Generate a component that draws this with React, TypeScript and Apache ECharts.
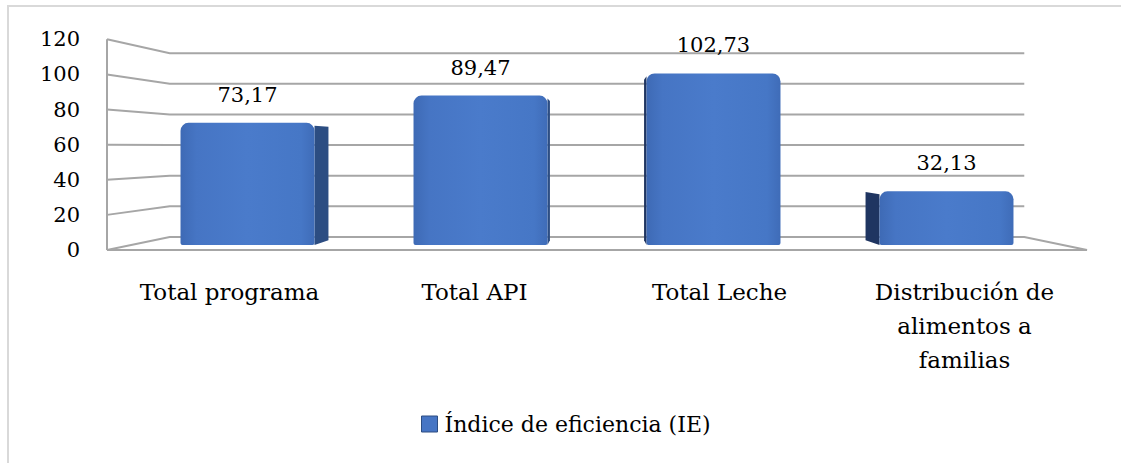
import React, { useEffect, useRef } from "react";
import * as echarts from "echarts";

const categories = ["Total programa", "Total API", "Total Leche", "Distribución de\nalimentos a\nfamilias"];
const values = [73.17, 89.47, 102.73, 32.13];
const seriesName = "Índice de eficiencia (IE)";
const yTicks = [0, 20, 40, 60, 80, 100, 120];

const FONT = "'DejaVu Serif', serif";
const GRID_COLOR = "#a6a6a6";
const K_WALL = 0.872;
const K_BAR_FRONT = 0.951;
const K_BAR_BACK = 0.904;
const VP_VALUE = 58;
const BAR_FRAC = 0.575;

const fmt = (v: number) => v.toFixed(2).replace(".", ",");

function frame(api: any) {
  const band = api.size([1, 0])[0];
  const left = api.coord([0, 0])[0] - band / 2;
  const right = api.coord([categories.length - 1, 0])[0] + band / 2;
  const vp = [(left + right) / 2, api.coord([0, VP_VALUE])[1]];
  const P = (x: number, y: number, k: number) => [vp[0] + k * (x - vp[0]), vp[1] + k * (y - vp[1])];
  return { band, left, right, vp, P };
}

export default function App() {
  const ref = useRef<HTMLDivElement>(null);
  useEffect(() => {
    document.body.style.margin = "0";
    document.body.style.overflow = "hidden";
    const chart = echarts.init(ref.current!, null, { renderer: "svg" });

    const wallsRender = (params: any, api: any) => {
      const { left, right, P } = frame(api);
      const y0 = api.coord([0, yTicks[0]])[1];
      const yMax = api.coord([0, yTicks[yTicks.length - 1]])[1];
      const children: any[] = [];
      children.push({
        type: "polygon",
        shape: { points: [[left, y0], [right, y0], P(right, y0, K_WALL), P(left, y0, K_WALL)] },
        style: { fill: "#ffffff", stroke: GRID_COLOR, lineWidth: 2 },
      });
      yTicks.slice(1).forEach((t) => {
        const y = api.coord([0, t])[1];
        const bl = P(left, y, K_WALL);
        const br = P(right, y, K_WALL);
        children.push({
          type: "polyline",
          shape: { points: [[left, y], bl, [br[0], bl[1]]] },
          style: { fill: "none", stroke: GRID_COLOR, lineWidth: 2 },
        });
      });
      children.push({
        type: "line",
        shape: { x1: left, y1: y0, x2: left, y2: yMax },
        style: { stroke: GRID_COLOR, lineWidth: 2 },
      });
      return { type: "group", children };
    };

    const barsRender = (params: any, api: any) => {
      const { band, vp, P } = frame(api);
      const i = api.value(0);
      const v = api.value(1);
      const top = api.coord([i, v]);
      const bot = api.coord([i, 0]);
      const bw = band * BAR_FRAC;
      const x0 = top[0] - bw / 2;
      const x1 = top[0] + bw / 2;
      const fTL = P(x0, top[1], K_BAR_FRONT);
      const fBR = P(x1, bot[1], K_BAR_FRONT);
      const rightSide = top[0] < vp[0];
      const xs = rightSide ? x1 : x0;
      const sideTopY = top[1] + 3;
      const side = {
        type: "polygon",
        shape: {
          points: [P(xs, sideTopY, K_BAR_FRONT), P(xs, sideTopY, K_BAR_BACK), P(xs, bot[1], K_BAR_BACK), P(xs, bot[1], K_BAR_FRONT)],
        },
        style: { fill: rightSide ? "#2c4d82" : "#1f3561" },
      };
      const front = {
        type: "rect",
        shape: { x: fTL[0], y: fTL[1], width: fBR[0] - fTL[0], height: fBR[1] - fTL[1], r: [8, 8, 2, 2] },
        style: {
          fill: new echarts.graphic.LinearGradient(0, 0, 1, 0, [
            { offset: 0, color: "#3e6ab5" },
            { offset: 0.12, color: "#4675c4" },
            { offset: 0.5, color: "#4a7bcb" },
            { offset: 0.9, color: "#4677c6" },
            { offset: 1, color: "#3f6cb8" },
          ]),
        },
      };
      const cx = (fTL[0] + fBR[0]) / 2;
      const label = {
        type: "text",
        style: {
          text: fmt(v),
          x: cx,
          y: fTL[1] - 28,
          textAlign: "center",
          textVerticalAlign: "middle",
          fontFamily: FONT,
          fontSize: 21,
          fill: "#000",
        },
      };
      return { type: "group", children: [side, front, label] };
    };

    chart.setOption({
      animation: false,
      tooltip: { show: false },
      grid: { left: 107, right: 34, top: 39.3, bottom: 213 },
      legend: {
        left: 416,
        top: 408,
        itemWidth: 16,
        itemHeight: 16,
        selectedMode: false,
        data: [
          {
            name: seriesName,
            icon: "rect",
            itemStyle: { color: "#4675c4", borderColor: "#2c4d82", borderWidth: 1 },
          },
        ],
        textStyle: { fontFamily: FONT, fontSize: 22, color: "#000", padding: [0, 0, 0, 2] },
      },
      xAxis: {
        type: "category",
        data: categories,
        boundaryGap: true,
        axisLine: { show: false },
        axisTick: { show: false },
        splitLine: { show: false },
        axisLabel: {
          interval: 0,
          margin: 25,
          fontFamily: FONT,
          fontSize: 23,
          lineHeight: 34,
          color: "#000",
        },
      },
      yAxis: {
        type: "value",
        min: yTicks[0],
        max: yTicks[yTicks.length - 1],
        interval: 20,
        axisLine: { show: false },
        axisTick: { show: false },
        splitLine: { show: false },
        axisLabel: { margin: 27, fontFamily: FONT, fontSize: 21, color: "#000" },
      },
      graphic: [
        {
          type: "polyline",
          shape: { points: [[8, 470], [8, 6], [1130, 6]] },
          style: { fill: "none", stroke: "#d9d9d9", lineWidth: 2 },
          silent: true,
          z: -10,
        },
      ],
      series: [
        {
          type: "custom",
          name: "walls",
          renderItem: wallsRender,
          data: [[0, 0]],
          clip: false,
          silent: true,
          z: 1,
        },
        {
          type: "custom",
          name: seriesName,
          renderItem: barsRender,
          data: values.map((v, i) => [i, v]),
          encode: { x: 0, y: 1 },
          itemStyle: { color: "#4675c4" },
          clip: false,
          z: 2,
        },
      ],
    });
    return () => chart.dispose();
  }, []);
  return <div ref={ref} style={{ width: 1121, height: 463 }} />;
}
